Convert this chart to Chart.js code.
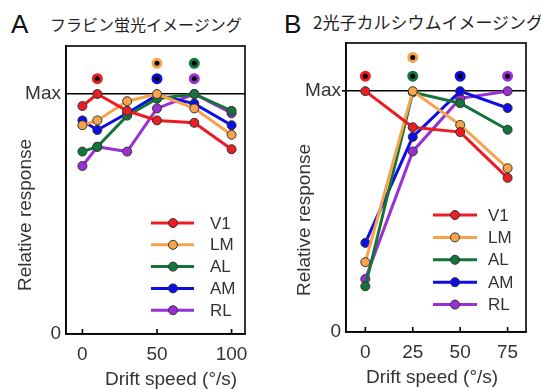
<!DOCTYPE html>
<html>
<head>
<meta charset="utf-8">
<script src="https://cdn.jsdelivr.net/npm/chart.js@4.4.1/dist/chart.umd.min.js"></script>
<style>
  body { margin: 0; background: #fff; width: 541px; height: 389px; position: relative; overflow: hidden; font-family: "Liberation Sans", Arial, sans-serif; }
  .panel { position: absolute; top: 0; height: 389px; }
  .letter { position: absolute; font-size: 26px; line-height: 26px; color: #111; }
  .title { position: absolute; font-family: "Noto Sans CJK JP", sans-serif; line-height: 16px; color: #222; white-space: nowrap; }
</style>
</head>
<body>
<div class="letter" style="left:11px; top:11px;">A</div>
<div class="title" style="left:50px; top:16px; font-size:16px;">フラビン蛍光イメージング</div>
<div class="letter" style="left:284px; top:11px;">B</div>
<div class="title" style="left:313px; top:14px; font-size:17px;">2光子カルシウムイメージング</div>

<div class="panel" style="left:0; width:270px;"><canvas id="chartA" width="270" height="389"></canvas></div>
<div class="panel" style="left:270px; width:271px;"><canvas id="chartB" width="271" height="389"></canvas></div>

<script>
// areas, in legend order
const areas = ["V1", "LM", "AL", "AM", "RL"];
const areaColors = ["#ec1c24", "#f7a34c", "#14743a", "#0d0de8", "#9a2fd6"];

// A: flavoprotein imaging
const speedsA = [0, 10, 30, 50, 75, 100];
const ticksA = [0, 50, 100];
const v1A = [0.95, 1.0, 0.93, 0.89, 0.88, 0.77];
const lmA = [0.87, 0.89, 0.97, 1.0, 0.94, 0.83];
const alA = [0.76, 0.78, 0.91, 0.98, 1.0, 0.93];
const amA = [0.89, 0.85, 0.92, 0.995, 0.96, 0.87];
const rlA = [0.70, 0.78, 0.76, 0.94, 1.0, 0.92];

// B: two-photon calcium imaging
const speedsB = [0, 25, 50, 75];
const ticksB = [0, 25, 50, 75];
const v1B = [1.0, 0.85, 0.83, 0.64];
const lmB = [0.29, 1.0, 0.86, 0.68];
const alB = [0.19, 0.995, 0.95, 0.84];
const amB = [0.37, 0.81, 1.0, 0.93];
const rlB = [0.22, 0.75, 0.97, 1.0];

const TEXT = "#333";

function peakDatasets(speeds, series, rows) {
  const peaks = series.map(vals => speeds[vals.indexOf(Math.max(...vals))]);
  return peaks.map((px, i) => {
    // the earlier area sits in the upper row when two peak at the same speed
    const stacked = peaks.some((q, j) => j > i && q === px);
    return {
      label: "peak " + areas[i],
      data: [{ x: px, y: stacked ? rows[1] : rows[0] }],
      showLine: false,
      pointRadius: 4,
      pointBorderWidth: 3,
      pointBackgroundColor: "#000",
      pointBorderColor: areaColors[i],
      isPeak: true
    };
  });
}

const panelDecor = {
  id: "panelDecor",
  afterDatasetsDraw(chart, args, o) {
    const { ctx, chartArea: a } = chart;
    ctx.save();
    ctx.strokeStyle = "#000";
    ctx.lineWidth = 1.6;
    ctx.strokeRect(a.left, a.top, a.right - a.left, a.bottom - a.top);
    const xs = chart.scales.x;
    ctx.beginPath();
    xs.ticks.forEach(t => {
      const px = xs.getPixelForValue(t.value);
      ctx.moveTo(px, a.bottom);
      ctx.lineTo(px, a.bottom - 5);
    });
    ctx.stroke();
    ctx.restore();
  },
  afterDraw(chart, args, o) {
    const { ctx, chartArea: a } = chart;
    ctx.save();
    // legend
    areas.forEach((name, i) => {
      const y = a.bottom - o.legTop + i * o.legStep;
      ctx.strokeStyle = areaColors[i];
      ctx.lineWidth = 3;
      ctx.beginPath();
      ctx.moveTo(a.right - o.legLine[0], y);
      ctx.lineTo(a.right - o.legLine[1], y);
      ctx.stroke();
      ctx.fillStyle = areaColors[i];
      ctx.strokeStyle = "#333";
      ctx.lineWidth = 1;
      ctx.beginPath();
      ctx.arc(a.right - o.legDot, y, 4.5, 0, Math.PI * 2);
      ctx.fill();
      ctx.stroke();
      ctx.fillStyle = TEXT;
      ctx.font = "17px 'Liberation Sans', Arial, sans-serif";
      ctx.textAlign = "left";
      ctx.textBaseline = "middle";
      ctx.fillText(name, a.right - o.legText, y + 1);
    });
    // axis titles
    ctx.fillStyle = TEXT;
    ctx.font = "19px 'Liberation Sans', Arial, sans-serif";
    ctx.textAlign = "center";
    ctx.textBaseline = "alphabetic";
    ctx.fillText("Drift speed (°/s)", o.xTitle[0], o.xTitle[1]);
    ctx.translate(o.yTitle[0], o.yTitle[1]);
    ctx.rotate(-Math.PI / 2);
    ctx.textBaseline = "middle";
    ctx.fillText("Relative response", 0, 0);
    ctx.restore();
  }
};

function makeChart(id, speeds, tickVals, series, o) {
  const lines = series.map((vals, i) => ({
    label: areas[i],
    data: speeds.map((s, k) => ({ x: s, y: vals[k] })),
    borderColor: areaColors[i],
    backgroundColor: areaColors[i],
    borderWidth: 3,
    pointRadius: 4.5,
    pointBorderWidth: 1,
    pointBorderColor: "#333",
    pointBackgroundColor: areaColors[i],
    tension: 0
  }));
  return new Chart(document.getElementById(id), {
    type: "line",
    data: { datasets: lines.concat(peakDatasets(speeds, series, o.rows)) },
    options: {
      responsive: false,
      animation: false,
      events: [],
      layout: { padding: { left: 0, right: o.padRight, top: o.padTop, bottom: 0 } },
      plugins: {
        legend: { display: false },
        tooltip: { enabled: false },
        panelDecor: o
      },
      scales: {
        x: {
          type: "linear",
          min: o.xMin,
          max: o.xMax,
          afterBuildTicks: s => { s.ticks = tickVals.map(v => ({ value: v })); },
          afterFit: s => { s.height = o.xHeight; },
          grid: { display: false, drawTicks: false },
          border: { display: true, color: "#000", width: 1.6 },
          ticks: { color: TEXT, padding: 9, maxRotation: 0, font: { size: 19, family: "'Liberation Sans', Arial, sans-serif" } }
        },
        y: {
          min: 0,
          max: 1.2,
          afterBuildTicks: s => { s.ticks = [{ value: 0 }, { value: 1 }]; },
          afterFit: s => { s.width = o.yWidth; },
          grid: {
            color: c => (c.tick && c.tick.value === 1 ? "#000" : "rgba(0,0,0,0)"),
            lineWidth: 1.6,
            drawTicks: true,
            tickLength: o.yTick,
            tickColor: c => (c.tick && c.tick.value === 1 ? "#000" : "rgba(0,0,0,0)")
          },
          border: { display: true, color: "#000", width: 1.6 },
          ticks: {
            color: TEXT,
            padding: o.yPad,
            callback: v => (v === 1 ? "Max" : v === 0 ? "0" : ""),
            font: { size: 19, family: "'Liberation Sans', Arial, sans-serif" }
          }
        }
      }
    },
    plugins: [panelDecor]
  });
}

makeChart("chartA", speedsA, ticksA, [v1A, lmA, alA, amA, rlA], {
  xMin: -11, xMax: 109, padTop: 46, padRight: 25, yWidth: 66, xHeight: 55,
  yTick: 0, yPad: 5, rows: [1.064, 1.128],
  legTop: 111, legStep: 21.8, legLine: [94, 51], legDot: 72, legText: 35,
  xTitle: [171, 385], yTitle: [26, 215]
});

makeChart("chartB", speedsB, ticksB, [v1B, lmB, alB, amB, rlB], {
  xMin: -10.2, xMax: 84.7, padTop: 43, padRight: 15, yWidth: 76, xHeight: 57,
  yTick: 4, yPad: 1, rows: [1.062, 1.14],
  legTop: 117, legStep: 22.4, legLine: [93, 49], legDot: 71, legText: 38,
  xTitle: [162, 383], yTitle: [34.5, 220]
});
</script>
</body>
</html>
